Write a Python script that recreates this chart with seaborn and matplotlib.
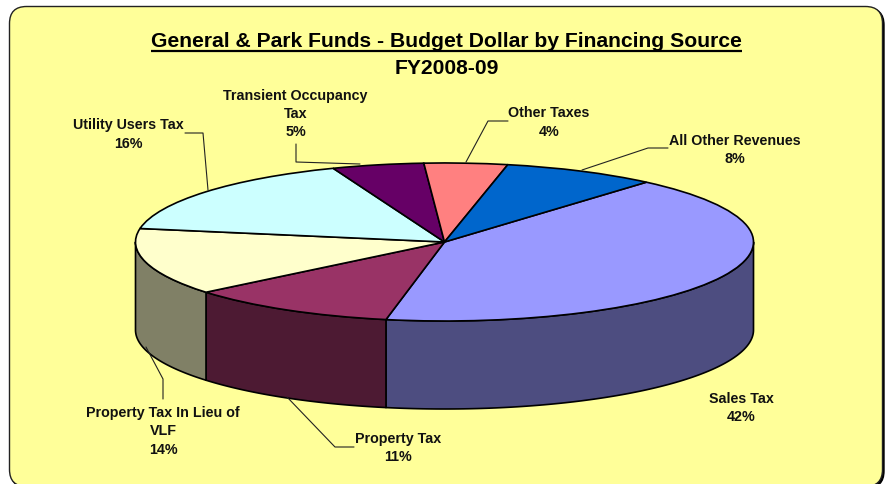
import numpy as np
import matplotlib
matplotlib.use("Agg")
import matplotlib.pyplot as plt
from matplotlib.patches import FancyBboxPatch
import seaborn as sns

labels = ["Sales Tax", "Property Tax", "Property Tax In Lieu of\nVLF", "Utility Users Tax",
          "Transient Occupancy\nTax", "Other Taxes", "All Other Revenues"]
values = [41.7, 11.0, 13.7, 16.4, 4.8, 4.35, 8.05]
colors = ["#9999FF", "#993366", "#FFFFCC", "#CCFFFF", "#660066", "#FF8080", "#0066CC"]
title_lines = ["General & Park Funds - Budget Dollar by Financing Source", "FY2008-09"]

sns.set_theme(style="white")
plt.rcParams["font.family"] = ["Liberation Sans", "DejaVu Sans"]
palette = sns.color_palette(colors)

W, H = 886, 485
fig = plt.figure(figsize=(W / 100, H / 100), dpi=100, facecolor="white")

# pixel-space layer for the frame; its bottom edge runs off the canvas
bg = fig.add_axes([0, 0, 1, 1], zorder=0)
bg.set_xlim(0, W); bg.set_ylim(H, 0); bg.axis("off")
bg.add_patch(FancyBboxPatch((11, 9), 873, 480, boxstyle="round,pad=0,rounding_size=17",
                            fc="black", ec="black", lw=1))
bg.add_patch(FancyBboxPatch((9.5, 7.5), 873, 480, boxstyle="round,pad=0,rounding_size=17",
                            fc="#FFFF99", ec="#222222", lw=1.0))

# pie axes: one data unit = ellipse radius
cx, cy, rx, ry, depth_px = 444.5, 243.0, 309.0, 79.0, 88.0
ax = fig.add_axes([0, 0, 1, 1], zorder=1)
ax.patch.set_alpha(0)
depth = depth_px / ry

fractions = np.array(values) / sum(values)
start = 49.2
edges = start - 360 * np.concatenate([[0], np.cumsum(fractions)])
for i, col in enumerate(palette):
    hi, lo = edges[i] % 360, (edges[i] % 360) - 360 * fractions[i]
    # visible part of the wall: the front half of the ellipse (180..360 degrees)
    for shift in (0, 360):
        a = max(lo + shift, 180)
        b = min(hi + shift, 360)
        if b > a:
            t = np.radians(np.linspace(a, b, 120))
            xs = np.cos(t)
            ys = np.sin(t)
            px = np.concatenate([xs, xs[::-1]])
            py = np.concatenate([ys, ys[::-1] - depth])
            ax.fill(px, py, fc=tuple(c * 0.5 for c in col), ec="black", lw=1.2, zorder=1, joinstyle="round")

ax.pie(values, colors=palette, startangle=start, counterclock=False, radius=1,
       center=(0, 0), frame=True,
       wedgeprops=dict(edgecolor="black", linewidth=1.2, zorder=2))
ax.set_aspect("auto")
ax.set_xlim(-cx / rx, (W - cx) / rx)
ax.set_ylim(-(H - cy) / ry, cy / ry)
ax.axis("off")

# pixel-space layer for text and leaders
top = fig.add_axes([0, 0, 1, 1], zorder=2)
top.patch.set_alpha(0)
top.set_xlim(0, W); top.set_ylim(H, 0); top.axis("off")

top.text(446.5, 41.5, title_lines[0], ha="center", va="center", fontsize=15.25, fontweight="bold", color="black")
top.plot([151, 742], [51.5, 51.5], color="black", lw=1.6, solid_capstyle="butt")
top.text(447, 69, title_lines[1], ha="center", va="center", fontsize=15.25, fontweight="bold", color="black")

label_pos = [(741, 408), (398.5, 448), (163, 431.5), (128, 134.5), (295.5, 114), (549, 122.5), (734.5, 150)]
for lab, v, (x, y) in zip(labels, values, label_pos):
    top.text(x, y, f"{lab}\n{v:.0f}%", ha="center", va="center", fontsize=10.3, fontweight="bold",
             color="#111111", linespacing=1.38)

leaders = [
    ([354, 335, 287], [448, 448, 398]),
    ([163, 163, 146], [400, 380, 348]),
    ([185, 203, 208], [134, 134, 191]),
    ([296, 296, 360], [145, 163, 165]),
    ([508, 488, 466], [122, 122, 163]),
    ([668, 648, 582], [149, 149, 171]),
]
for xs, ys in leaders:
    top.plot(xs, ys, color="#222222", lw=0.8)

fig.savefig("out.png", dpi=100, facecolor="white")
